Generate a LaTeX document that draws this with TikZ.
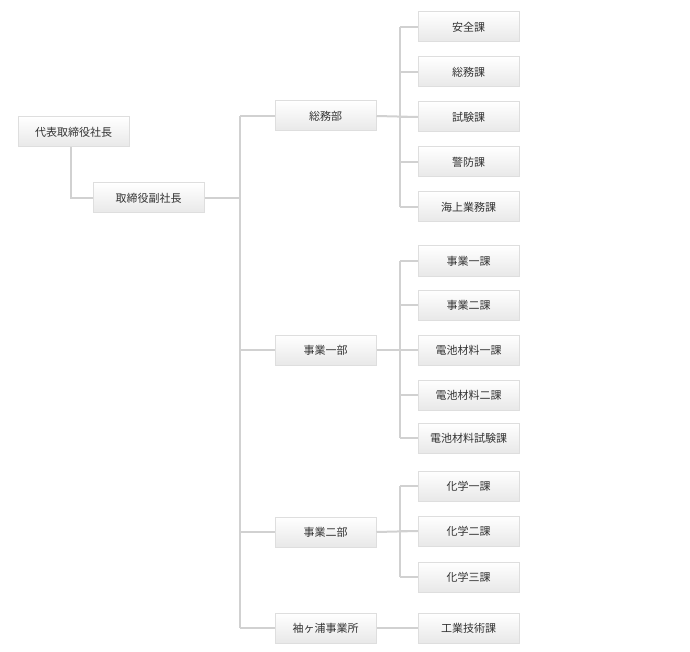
\documentclass[tikz,border=0pt]{standalone}
\usepackage{fontspec}
\newfontfamily\cjk{Noto Sans CJK JP}
\begin{document}
\begin{tikzpicture}[x=1pt,y=-1pt,
  box/.style={draw=black!13,line width=1pt,top color=white,bottom color=black!9,minimum width=101pt,minimum height=30pt,inner sep=0pt,font=\cjk\fontsize{11}{13}\selectfont,text=black!80},
  wbox/.style={box,minimum width=111pt},
  ln/.style={draw=black!18,line width=2pt}]
\useasboundingbox (0,0) rectangle (690,652);
\node[wbox] (p) at (73.5,132) {代表取締役社長};
\node[wbox] (v) at (148.5,198) {取締役副社長};
\node[box] (b1) at (325.5,116) {総務部};
\node[box] (b2) at (325.5,350) {事業一部};
\node[box] (b3) at (325.5,532) {事業二部};
\node[box] (b4) at (325.5,628) {袖ヶ浦事業所};
\foreach \n/\y/\t in {a1/27/安全課,a2/72/総務課,a3/117/試験課,a4/162/警防課,a5/207/海上業務課,
  c1/261/事業一課,c2/305/事業二課,c3/350/電池材料一課,c4/395/電池材料二課,c5/438/電池材料試験課,
  d1/486/化学一課,d2/531/化学二課,d3/577/化学三課,e1/628/工業技術課}
  \node[box] (\n) at (468.5,\y) {\t};
\coordinate (t1) at (240,116);
\coordinate (t4) at (240,628);
\draw[ln] (p.south -| 71,0) |- (v.west);
\draw[ln] (v.east) -- (v.east -| t1);
\draw[ln] (t1) -- (t4);
\foreach \b in {b1,b2,b3,b4} \draw[ln] (\b.west -| t1) -- (\b.west);
\foreach \b/\f/\l/\m in {b1/a1/a5/a3,b2/c1/c5/c3,b3/d1/d3/d2} {
  \draw[ln] (\b.east) -- (\m.west);
  \draw[ln] (\f.west -| 400,0) -- (\l.west -| 400,0);
}
\foreach \k in {a1,a2,a3,a4,a5,c1,c2,c3,c4,c5,d1,d2,d3} \draw[ln] (\k.west -| 400,0) -- (\k.west);
\draw[ln] (b4.east) -- (e1.west);
\end{tikzpicture}
\end{document}
